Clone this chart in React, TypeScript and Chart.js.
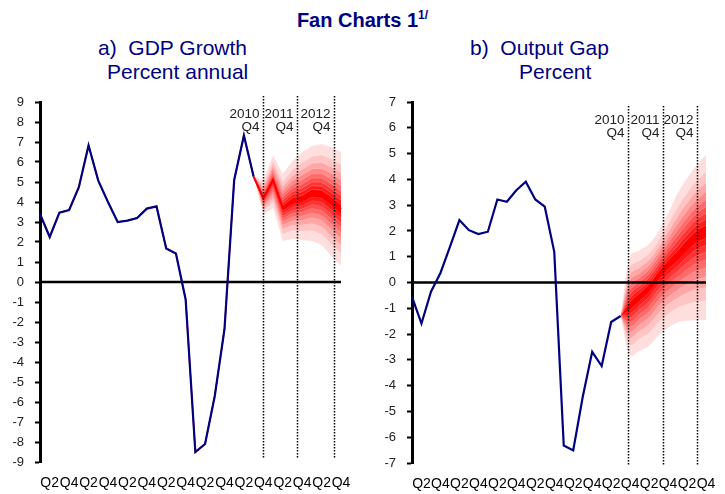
import React, { useEffect, useRef } from 'react';
import { Chart, registerables } from 'chart.js';

Chart.register(...registerables);

// ---------- data ----------
const QUARTER_LABELS = [
  '', 'Q2', '', 'Q4', '', 'Q2', '', 'Q4',
  '', 'Q2', '', 'Q4', '', 'Q2', '', 'Q4',
  '', 'Q2', '', 'Q4', '', 'Q2', '', 'Q4',
  '', 'Q2', '', 'Q4', '', 'Q2', '', 'Q4',
];

// a) GDP growth, percent annual (history 2005Q1 .. 2010Q3)
const GDP_HISTORY = [3.4, 2.25, 3.47, 3.6, 4.74, 6.83, 5.07, 4.0, 3.0, 3.07, 3.2, 3.67, 3.78, 1.68, 1.42, -0.87, -8.5, -8.1, -5.7, -2.36, 5.1, 7.33, 5.27];
// forecast from 2010Q3 .. 2012Q4
const GDP_CENTRAL = [5.27, 4.2, 5.1, 3.7, 4.05, 4.15, 4.45, 4.4, 4.05, 3.65];
const GDP_UPPER = [5.27, 5.1, 6.35, 5.4, 6.05, 6.5, 6.8, 6.9, 6.75, 6.5];
const GDP_LOWER = [5.27, 3.35, 3.7, 2.05, 2.15, 2.1, 2.05, 1.85, 1.3, 0.8];

// b) Output gap, percent
const GAP_HISTORY = [-0.56, -1.59, -0.36, 0.37, 1.38, 2.42, 2.03, 1.88, 1.97, 3.22, 3.13, 3.58, 3.91, 3.22, 2.94, 1.19, -6.32, -6.51, -4.44, -2.69, -3.24, -1.53, -1.3];
const GAP_CENTRAL = [-1.3, -0.9, -0.55, -0.2, 0.3, 0.7, 1.05, 1.45, 1.8, 2.0];
const GAP_UPPER = [-1.3, 1.05, 1.25, 1.5, 2.0, 2.7, 3.45, 4.05, 4.55, 4.95];
const GAP_LOWER = [-1.3, -2.85, -2.65, -2.45, -2.05, -1.75, -1.55, -1.48, -1.46, -1.46];

const FORECAST_START = 22;
// fan band half-widths relative to the outer (90%) band: 10%,20%,...,90% bands
const BAND_LEVELS = [0.077, 0.154, 0.234, 0.319, 0.41, 0.512, 0.63, 0.779, 1];

const GDP_MARKERS = [
  { at: 23.0, year: '2010', quarter: 'Q4' },
  { at: 26.5, year: '2011', quarter: 'Q4' },
  { at: 30.3, year: '2012', quarter: 'Q4' },
];
const GAP_MARKERS = [
  { at: 22.8, year: '2010', quarter: 'Q4' },
  { at: 26.5, year: '2011', quarter: 'Q4' },
  { at: 30.1, year: '2012', quarter: 'Q4' },
];

// ---------- styles ----------
const FONT = '"Liberation Sans", Arial, Helvetica, sans-serif';
const NAVY = '#000080';
const BAND_COLORS = ['#FF0000', '#FF1A1A', '#FF3333', '#FF4F4F', '#FF6B6B', '#FF8888', '#FFA6A6', '#FFC4C4', '#FFDEDE'];

Chart.defaults.font.family = FONT;

const N = QUARTER_LABELS.length;

function padSeries(values: number[], start: number): (number | null)[] {
  const out: (number | null)[] = new Array(N).fill(null);
  values.forEach((v, i) => { out[start + i] = v; });
  return out;
}

function fanDatasets(central: number[], upper: number[], lower: number[], smooth: boolean) {
  const sets: any[] = [];
  BAND_LEVELS.forEach((lvl, k) => {
    const up = central.map((c, i) => c + lvl * (upper[i] - c));
    const lo = central.map((c, i) => c - lvl * (c - lower[i]));
    const common = {
      pointRadius: 0,
      borderWidth: 0.6,
      borderColor: 'rgba(255,255,255,0.35)',
      order: 10 + k,
      tension: smooth ? 0.35 : 0,
      spanGaps: false,
    };
    sets.push({ ...common, data: padSeries(up, FORECAST_START), fill: '+1', backgroundColor: BAND_COLORS[k] });
    sets.push({ ...common, data: padSeries(lo, FORECAST_START), fill: false });
  });
  return sets;
}

function markerPlugin(markers: { at: number; year: string; quarter: string }[], top: number, bottom: number, yearY: number, qY: number) {
  return {
    id: 'markers',
    afterDatasetsDraw(chart: any) {
      const { ctx } = chart;
      const x = chart.scales.x;
      ctx.save();
      markers.forEach((m) => {
        const px = Math.round(x.getPixelForValue(m.at)) + 0.5;
        ctx.beginPath();
        ctx.setLineDash([1.5, 1.5]);
        ctx.lineWidth = 1.5;
        ctx.strokeStyle = '#000';
        ctx.moveTo(px, top);
        ctx.lineTo(px, bottom);
        ctx.stroke();
        ctx.setLineDash([]);
        ctx.fillStyle = '#222';
        ctx.font = `13.5px ${FONT}`;
        ctx.textAlign = 'right';
        ctx.textBaseline = 'middle';
        ctx.fillText(m.year, px - 4, yearY);
        ctx.fillText(m.quarter, px - 4, qY);
      });
      ctx.restore();
    },
  };
}

function buildConfig(p: {
  datasets: any[]; yMin: number; yMax: number; yWidth: number; padRight: number; xHeight: number;
  plugin: any;
}) {
  return {
    type: 'line' as const,
    data: { labels: QUARTER_LABELS, datasets: p.datasets },
    plugins: [p.plugin],
    options: {
      responsive: false,
      animation: false as const,
      events: [],
      layout: { padding: { top: 16, right: p.padRight, bottom: 0, left: 0 } },
      plugins: { legend: { display: false }, tooltip: { enabled: false } },
      scales: {
        x: {
          type: 'category' as const,
          offset: false,
          grid: { display: false, drawTicks: false },
          border: { display: false },
          ticks: { autoSkip: false, maxRotation: 0, minRotation: 0, color: '#000', font: { size: 14 }, padding: 13 },
          afterFit: (s: any) => { s.height = p.xHeight; s.paddingLeft = 0; s.paddingRight = 0; },
        },
        y: {
          min: p.yMin,
          max: p.yMax,
          ticks: { stepSize: 1, autoSkip: false, color: '#222', font: { size: 13 }, padding: 11 },
          grid: { display: true, drawOnChartArea: false, drawTicks: true, tickLength: 5, tickColor: '#000', tickWidth: 2 },
          border: { display: true, color: '#000', width: 3 },
          afterFit: (s: any) => { s.width = p.yWidth; s.paddingTop = 0; s.paddingBottom = 0; },
        },
      },
    },
  };
}

function lineSet(data: (number | null)[], color: string, order: number, width = 2) {
  return { data, borderColor: color, borderWidth: width, pointRadius: 0, fill: false, tension: 0, order, spanGaps: false };
}

export default function App() {
  const leftRef = useRef<HTMLCanvasElement>(null);
  const rightRef = useRef<HTMLCanvasElement>(null);

  useEffect(() => {
    const zeros = QUARTER_LABELS.map(() => 0);

    const gdpSets = [
      lineSet(padSeries(GDP_HISTORY, 0), NAVY, 0, 2.2),
      lineSet(padSeries(GDP_HISTORY, 0), '#FF0000', 1, 1.4),
      lineSet(padSeries(GDP_CENTRAL, FORECAST_START), '#FF0000', 1, 2.2),
      lineSet(zeros, '#000', 2, 2.5),
      ...fanDatasets(GDP_CENTRAL, GDP_UPPER, GDP_LOWER, false),
    ];
    const gapSets = [
      lineSet(padSeries(GAP_HISTORY, 0), NAVY, 0, 2.2),
      lineSet(zeros, '#000', 2, 2.5),
      ...fanDatasets(GAP_CENTRAL, GAP_UPPER, GAP_LOWER, true),
    ];

    const c1 = new Chart(leftRef.current!, buildConfig({
      datasets: gdpSets, yMin: -9, yMax: 9, yWidth: 40, padRight: 21, xHeight: 32,
      plugin: markerPlugin(GDP_MARKERS, 10, 373, 28, 41),
    }) as any);
    const c2 = new Chart(rightRef.current!, buildConfig({
      datasets: gapSets, yMin: -7, yMax: 7, yWidth: 50, padRight: 19, xHeight: 31,
      plugin: markerPlugin(GAP_MARKERS, 20, 379, 34, 47),
    }) as any);
    return () => { c1.destroy(); c2.destroy(); };
  }, []);

  const sub: React.CSSProperties = { position: 'absolute', fontSize: 21, lineHeight: '22px', color: NAVY, whiteSpace: 'pre' };

  return (
    <div style={{ position: 'absolute', left: 0, top: 0, width: 725, height: 494, background: '#fff', fontFamily: FONT, overflow: 'hidden' }}>
      <div style={{ position: 'absolute', left: 0, top: 8, width: 725, textAlign: 'center', fontWeight: 'bold', fontSize: 20, lineHeight: '24px', color: NAVY }}>
        Fan Charts 1<span style={{ fontSize: 12, position: 'relative', top: -8 }}>1/</span>
      </div>
      <div style={{ ...sub, left: 98, top: 37 }}>{'a)  GDP Growth'}</div>
      <div style={{ ...sub, left: 107, top: 61 }}>{'Percent annual'}</div>
      <div style={{ ...sub, left: 470, top: 37 }}>{'b)  Output Gap'}</div>
      <div style={{ ...sub, left: 519, top: 61 }}>{'Percent'}</div>
      <canvas ref={leftRef} width={362} height={408} style={{ position: 'absolute', left: 0, top: 86, width: 362, height: 408 }} />
      <canvas ref={rightRef} width={363} height={408} style={{ position: 'absolute', left: 362, top: 86, width: 363, height: 408 }} />
    </div>
  );
}
